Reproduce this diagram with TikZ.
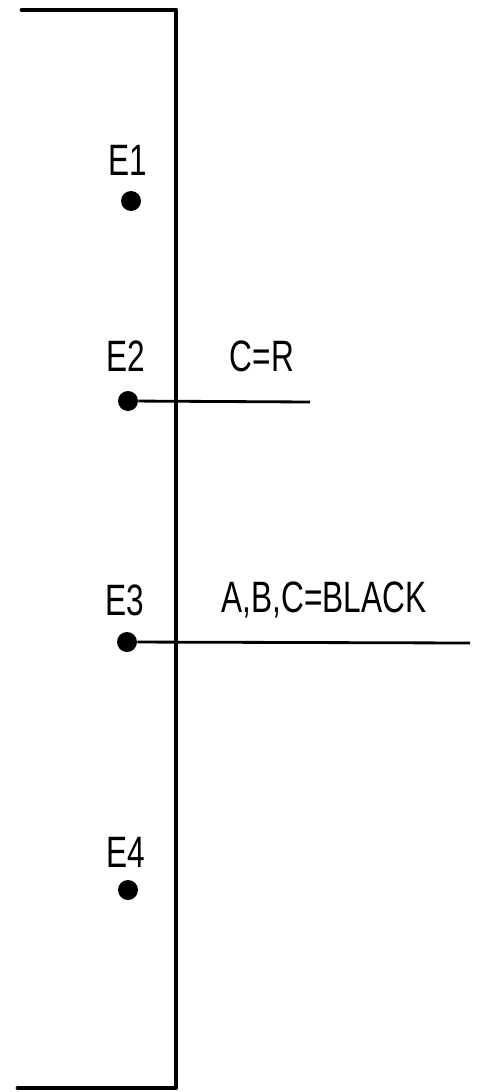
\documentclass[tikz,border=0pt]{standalone}
\usepackage{fontspec}
\setmainfont[FakeStretch=0.72]{Liberation Sans}
\begin{document}
\begin{tikzpicture}[x=0.02cm, y=-0.02cm,
                fr/.style={line width=2.8pt, line cap=round, line join=round},
                ln/.style={line width=1.6pt},
                pt/.style={circle, fill=black, inner sep=0pt, minimum size=0.4cm},
                lb/.style={font=\fontsize{25}{25}\selectfont, inner sep=0pt}
            ]
            \useasboundingbox (0,0) rectangle (479,1092);
            \coordinate (tl) at (22, 10);
            \coordinate (tr) at (176, 10);
            \coordinate (br) at (176, 1088);
            \coordinate (bl) at (18, 1088);
            \draw[fr] (tl) -- (tr) -- (br) -- (bl);
            \node[pt] (e1) at (131, 201) {};
            \node[pt] (e2) at (128, 401) {};
            \node[pt] (e3) at (127, 642) {};
            \node[pt] (e4) at (128, 890) {};
            \node[lb] (l1) at (128, 160) {E1};
            \node[lb] (l2) at (126, 356) {E2};
            \node[lb] (l3) at (125, 600) {E3};
            \node[lb] (l4) at (126, 852) {E4};
            \coordinate (c2) at (310, 402);
            \coordinate (c3) at (470, 643);
            \draw[ln] (e2) -- (c2);
            \draw[ln] (e3) -- (c3);
            \node[lb] (t2) at (262, 356) {C=R};
            \node[lb] (t3) at (324, 600) {A,B,C=BLACK};
            \end{tikzpicture}
\end{document}
